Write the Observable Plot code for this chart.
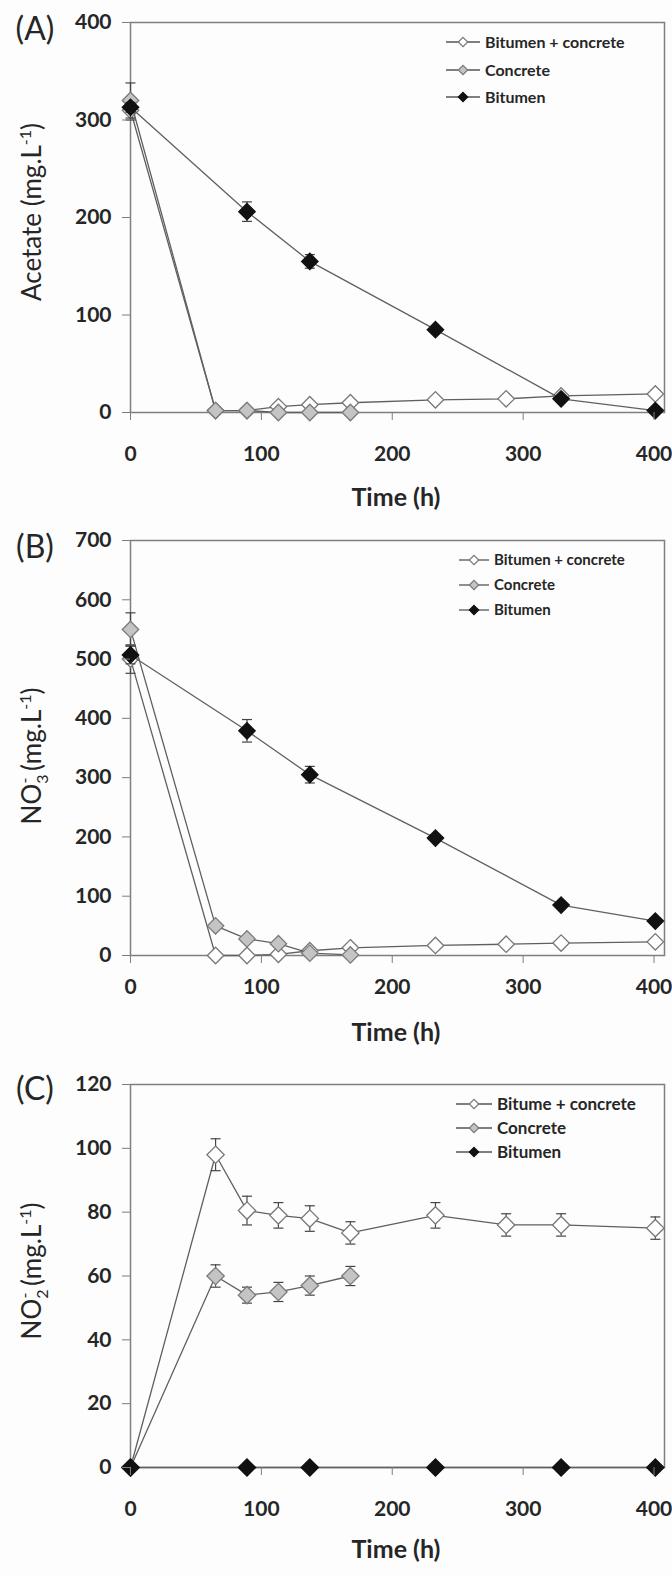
<!DOCTYPE html>
<html><head><meta charset="utf-8">
<script src="https://cdn.jsdelivr.net/npm/d3@7"></script>
<script src="https://cdn.jsdelivr.net/npm/@observablehq/plot@0.6"></script>
<style>
body{margin:0;background:#fdfdfd;}
#chart{width:672px;}
#chart svg{display:block;background:#fdfdfd;}
</style></head><body><div id="chart"></div>
<script>
// ---- data ----
const times = [0, 65, 89, 113, 137, 168, 233, 287, 329, 401];
const timesConcrete = [0, 65, 89, 113, 137, 168];
const timesBitumen = [0, 89, 137, 233, 329, 401];
const xTicks = [0, 100, 200, 300, 400];
const seriesNames = ["Bitumen + concrete", "Concrete", "Bitumen"];
const seriesNamesC = ["Bitume + concrete", "Concrete", "Bitumen"];

// (A) Acetate (mg/L)
const acetateYTicks = [0, 100, 200, 300, 400];
const acetateBC = [310, 2, 2, 6, 8, 10, 13, 14, 17, 19];
const acetateBCErr = [10, 0, 0, 0, 0, 0, 0, 0, 0, 0];
const acetateConcrete = [320, 2, 2, 0, 0, 0];
const acetateConcreteErr = [18, 0, 0, 0, 0, 0];
const acetateBitumen = [313, 206, 155, 85, 14, 2];
const acetateBitumenErr = [5, 10, 7, 3, 2, 0];

// (B) Nitrate (mg/L)
const nitrateYTicks = [0, 100, 200, 300, 400, 500, 600, 700];
const nitrateBC = [500, 0, 0, 2, 8, 13, 17, 19, 21, 23];
const nitrateBCErr = [24, 0, 0, 0, 0, 0, 0, 0, 0, 0];
const nitrateConcrete = [550, 50, 28, 20, 4, 1];
const nitrateConcreteErr = [28, 0, 0, 0, 0, 0];
const nitrateBitumen = [507, 379, 305, 198, 85, 58];
const nitrateBitumenErr = [15, 19, 14, 4, 3, 3];

// (C) Nitrite (mg/L)
const nitriteYTicks = [0, 20, 40, 60, 80, 100, 120];
const nitriteBC = [0, 98, 80.5, 79, 78, 73.5, 79, 76, 76, 75];
const nitriteBCErr = [0, 5, 4.5, 4, 4, 3.5, 4, 3.5, 3.5, 3.5];
const nitriteConcrete = [0, 60, 54, 55, 57, 60];
const nitriteConcreteErr = [0, 3.5, 2.5, 3, 3, 3];
const nitriteBitumen = [0, 0, 0, 0, 0, 0];
const nitriteBitumenErr = [0, 0, 0, 0, 0, 0];

// ---- styles ----
const fills = ["#ffffff", "#c4c4c4", "#111111"];
const strokes = ["#777777", "#7a7a7a", "#111111"];
const lineColor = "#606060";
const font = "Lato, 'Open Sans', sans-serif";

const cap = {draw(ctx) { ctx.moveTo(-5, 0); ctx.lineTo(5, 0); }};

function rows(t, v, e) { return t.map((d, i) => ({t: d, v: v[i], e: e[i]})); }

function makePanel(cfg) {
  const series = [
    rows(times, cfg.bc, cfg.bcErr),
    rows(timesConcrete, cfg.conc, cfg.concErr),
    rows(timesBitumen, cfg.bit, cfg.bitErr)
  ];
  const marks = [Plot.frame({stroke: "#7f7f7f", strokeWidth: 1.5})];
  series.forEach((s, i) => {
    const err = s.filter(d => d.e > 0);
    marks.push(Plot.line(s, {x: "t", y: "v", stroke: lineColor, strokeWidth: 1.3}));
    marks.push(Plot.ruleX(err, {x: "t", y1: d => d.v - d.e, y2: d => d.v + d.e, stroke: "#444", strokeWidth: 1.2}));
    marks.push(Plot.dot(err, {x: "t", y: d => d.v + d.e, symbol: cap, stroke: "#444", strokeWidth: 1.2, fill: "none"}));
    marks.push(Plot.dot(err, {x: "t", y: d => d.v - d.e, symbol: cap, stroke: "#444", strokeWidth: 1.2, fill: "none"}));
    marks.push(Plot.dot(s, {x: "t", y: "v", symbol: "diamond2", r: cfg.r, fill: fills[i], stroke: strokes[i], strokeWidth: 1.3}));
  });
  marks.push(Plot.axisY({ticks: cfg.yTicks, tickSize: 8, tickPadding: 11, label: null, stroke: "#7f7f7f"}));
  marks.push(Plot.axisX({ticks: xTicks, tickSize: 8, tickPadding: cfg.xPad, label: null, stroke: "#7f7f7f"}));

  const svg = Plot.plot({
    width: 672,
    height: cfg.height,
    marginLeft: 130,
    marginRight: 8,
    marginTop: cfg.mt,
    marginBottom: cfg.mb,
    style: {fontFamily: font, fontSize: "21px", fontWeight: "700", color: "#262626", background: "#fdfdfd"},
    x: {domain: [0, 408]},
    y: {domain: cfg.yDomain},
    marks
  });

  const g = d3.select(svg).append("g").attr("font-family", font).attr("fill", "#262626");
  // panel label
  g.append("text").attr("x", 35).attr("y", cfg.labelY).attr("text-anchor", "middle")
    .attr("font-size", 32).attr("font-weight", 400).text(cfg.label);
  // x title
  g.append("text").attr("x", 396).attr("y", cfg.xTitleY).attr("text-anchor", "middle")
    .attr("font-size", 25).attr("font-weight", 700).text("Time (h)");
  // y title
  const yt = g.append("text").attr("transform", `translate(41,${cfg.yTitleY}) rotate(-90)`)
    .attr("text-anchor", "middle").attr("font-size", 26).attr("font-weight", 400);
  cfg.yTitle.forEach(p => {
    const ts = yt.append("tspan").text(p.t);
    if (p.size) ts.attr("font-size", p.size);
    if (p.dy) ts.attr("dy", p.dy);
    if (p.dx) ts.attr("dx", p.dx);
  });
  // legend
  const lg = g.append("g").attr("text-anchor", "start");
  cfg.names.forEach((n, i) => {
    const y = cfg.legY[i];
    lg.append("line").attr("x1", cfg.legX).attr("x2", cfg.legX + cfg.legW).attr("y1", y).attr("y2", y)
      .attr("stroke", "#555").attr("stroke-width", 1.3);
    lg.append("path").attr("d", d3.symbol(d3.symbolDiamond2, 56)())
      .attr("transform", `translate(${cfg.legX + cfg.legW / 2},${y})`)
      .attr("fill", fills[i]).attr("stroke", strokes[i]).attr("stroke-width", 1.2);
    lg.append("text").attr("x", cfg.legX + cfg.legW + 5).attr("y", y).attr("dy", "0.35em")
      .attr("text-anchor", "start")
      .attr("font-size", cfg.legFont).attr("font-weight", 700).text(n);
  });
  return svg;
}

const chart = document.getElementById("chart");

chart.appendChild(makePanel({
  height: 520, mt: 22, mb: 108, xPad: 26, r: 7.4, yDomain: [0, 400], yTicks: acetateYTicks,
  bc: acetateBC, bcErr: acetateBCErr, conc: acetateConcrete, concErr: acetateConcreteErr,
  bit: acetateBitumen, bitErr: acetateBitumenErr,
  label: "(A)", labelY: 40, xTitleY: 506, yTitleY: 212,
  yTitle: [{t: "Acetate (mg.L"}, {t: "-1", size: 16, dy: -10}, {t: ")", dy: 10}],
  names: seriesNames, legX: 446, legW: 34, legY: [42, 70, 97], legFont: 16
}));

chart.appendChild(makePanel({
  height: 530, mt: 20, mb: 95, xPad: 16, r: 7.4, yDomain: [0, 700], yTicks: nitrateYTicks,
  bc: nitrateBC, bcErr: nitrateBCErr, conc: nitrateConcrete, concErr: nitrateConcreteErr,
  bit: nitrateBitumen, bitErr: nitrateBitumenErr,
  label: "(B)", labelY: 38, xTitleY: 521, yTitleY: 236,
  yTitle: [{t: "NO"}, {t: "3", size: 16, dy: 7}, {t: "-", size: 16, dx: -9, dy: -18}, {t: " (mg.L", dy: 11}, {t: "-1", size: 16, dy: -10}, {t: ")", dy: 10}],
  names: seriesNames, legX: 459, legW: 30, legY: [40, 65, 90], legFont: 15
}));

chart.appendChild(makePanel({
  height: 526, mt: 34, mb: 109, xPad: 26, r: 7.8, yDomain: [0, 120], yTicks: nitriteYTicks,
  bc: nitriteBC, bcErr: nitriteBCErr, conc: nitriteConcrete, concErr: nitriteConcreteErr,
  bit: nitriteBitumen, bitErr: nitriteBitumenErr,
  label: "(C)", labelY: 50, xTitleY: 508, yTitleY: 221,
  yTitle: [{t: "NO"}, {t: "2", size: 16, dy: 7}, {t: "-", size: 16, dx: -9, dy: -18}, {t: " (mg.L", dy: 11}, {t: "-1", size: 16, dy: -10}, {t: ")", dy: 10}],
  names: seriesNamesC, legX: 456, legW: 36, legY: [54, 78, 102], legFont: 17
}));
</script>
</body></html>
